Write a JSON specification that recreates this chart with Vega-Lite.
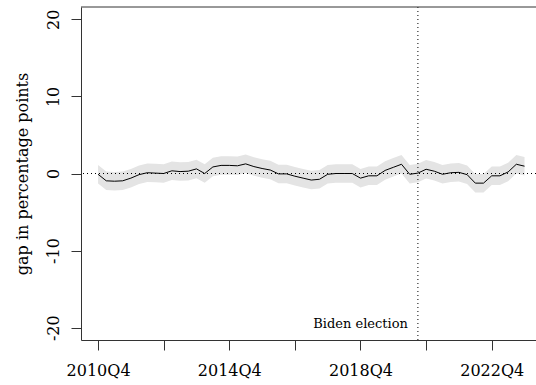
{
  "$schema": "https://vega.github.io/schema/vega-lite/v6.json",
  "autosize": "none",
  "width": 455,
  "height": 333,
  "padding": {"left": 81, "top": 7, "right": 0, "bottom": 45},
  "background": "white",
  "config": {
    "view": {"stroke": null},
    "font": "DejaVu Serif"
  },
  "datasets": {
    "gap": [
      {"t": 2010.75, "gap": -0.1, "lo": -1.3, "hi": 1.1},
      {"t": 2011.0, "gap": -0.95, "lo": -2.15, "hi": 0.25},
      {"t": 2011.25, "gap": -1.0, "lo": -2.2, "hi": 0.2},
      {"t": 2011.5, "gap": -0.95, "lo": -2.15, "hi": 0.25},
      {"t": 2011.75, "gap": -0.6, "lo": -1.8, "hi": 0.6},
      {"t": 2012.0, "gap": -0.15, "lo": -1.35, "hi": 1.05},
      {"t": 2012.25, "gap": 0.1, "lo": -1.1, "hi": 1.3},
      {"t": 2012.5, "gap": 0.05, "lo": -1.15, "hi": 1.25},
      {"t": 2012.75, "gap": 0.0, "lo": -1.2, "hi": 1.2},
      {"t": 2013.0, "gap": 0.35, "lo": -0.85, "hi": 1.55},
      {"t": 2013.25, "gap": 0.25, "lo": -0.95, "hi": 1.45},
      {"t": 2013.5, "gap": 0.3, "lo": -0.9, "hi": 1.5},
      {"t": 2013.75, "gap": 0.6, "lo": -0.6, "hi": 1.8},
      {"t": 2014.0, "gap": 0.0, "lo": -1.2, "hi": 1.2},
      {"t": 2014.25, "gap": 0.85, "lo": -0.35, "hi": 2.05},
      {"t": 2014.5, "gap": 1.05, "lo": -0.15, "hi": 2.25},
      {"t": 2014.75, "gap": 1.05, "lo": -0.15, "hi": 2.25},
      {"t": 2015.0, "gap": 1.0, "lo": -0.2, "hi": 2.2},
      {"t": 2015.25, "gap": 1.25, "lo": 0.05, "hi": 2.45},
      {"t": 2015.5, "gap": 0.9, "lo": -0.3, "hi": 2.1},
      {"t": 2015.75, "gap": 0.65, "lo": -0.55, "hi": 1.85},
      {"t": 2016.0, "gap": 0.45, "lo": -0.75, "hi": 1.65},
      {"t": 2016.25, "gap": -0.05, "lo": -1.25, "hi": 1.15},
      {"t": 2016.5, "gap": -0.05, "lo": -1.25, "hi": 1.15},
      {"t": 2016.75, "gap": -0.35, "lo": -1.55, "hi": 0.85},
      {"t": 2017.0, "gap": -0.6, "lo": -1.8, "hi": 0.6},
      {"t": 2017.25, "gap": -0.85, "lo": -2.05, "hi": 0.35},
      {"t": 2017.5, "gap": -0.75, "lo": -1.95, "hi": 0.45},
      {"t": 2017.75, "gap": -0.1, "lo": -1.3, "hi": 1.1},
      {"t": 2018.0, "gap": 0.0, "lo": -1.2, "hi": 1.2},
      {"t": 2018.25, "gap": 0.0, "lo": -1.2, "hi": 1.2},
      {"t": 2018.5, "gap": 0.0, "lo": -1.2, "hi": 1.2},
      {"t": 2018.75, "gap": -0.6, "lo": -1.8, "hi": 0.6},
      {"t": 2019.0, "gap": -0.3, "lo": -1.5, "hi": 0.9},
      {"t": 2019.25, "gap": -0.3, "lo": -1.5, "hi": 0.9},
      {"t": 2019.5, "gap": 0.4, "lo": -0.8, "hi": 1.6},
      {"t": 2019.75, "gap": 0.8, "lo": -0.4, "hi": 2.0},
      {"t": 2020.0, "gap": 1.2, "lo": 0.0, "hi": 2.4},
      {"t": 2020.25, "gap": -0.1, "lo": -1.3, "hi": 1.1},
      {"t": 2020.5, "gap": 0.05, "lo": -1.15, "hi": 1.25},
      {"t": 2020.75, "gap": 0.55, "lo": -0.65, "hi": 1.75},
      {"t": 2021.0, "gap": 0.3, "lo": -0.9, "hi": 1.5},
      {"t": 2021.25, "gap": -0.1, "lo": -1.3, "hi": 1.1},
      {"t": 2021.5, "gap": 0.1, "lo": -1.1, "hi": 1.3},
      {"t": 2021.75, "gap": 0.15, "lo": -1.05, "hi": 1.35},
      {"t": 2022.0, "gap": -0.15, "lo": -1.35, "hi": 1.05},
      {"t": 2022.25, "gap": -1.25, "lo": -2.45, "hi": -0.05},
      {"t": 2022.5, "gap": -1.25, "lo": -2.45, "hi": -0.05},
      {"t": 2022.75, "gap": -0.3, "lo": -1.5, "hi": 0.9},
      {"t": 2023.0, "gap": -0.3, "lo": -1.5, "hi": 0.9},
      {"t": 2023.25, "gap": 0.2, "lo": -1.0, "hi": 1.4},
      {"t": 2023.5, "gap": 1.2, "lo": 0.0, "hi": 2.4},
      {"t": 2023.75, "gap": 0.95, "lo": -0.25, "hi": 2.15}
    ],
    "event": [{"t": 2020.5, "y": -20, "label": "Biden election"}],
    "zero": [{"y": 0}],
    "frame": [{"y": 21.6}]
  },
  "layer": [
    {
      "data": {"name": "gap"},
      "mark": {"type": "area", "color": "#e4e4e4"},
      "encoding": {
        "x": {
          "field": "t",
          "type": "quantitative",
          "scale": {"domain": [2010.23, 2024.1], "nice": false, "zero": false},
          "axis": {
            "values": [2010.75, 2012.75, 2014.75, 2016.75, 2018.75, 2020.75, 2022.75],
            "labelExpr": "(datum.value - 2010.75) % 4 == 0 ? floor(datum.value) + 'Q4' : ''",
            "title": null,
            "grid": false,
            "tickSize": 10,
            "labelPadding": 12,
            "labelFont": "DejaVu Serif",
            "labelFontSize": 16,
            "labelColor": "black",
            "labelFlush": false,
            "labelOverlap": false,
            "domainColor": "#333",
            "tickColor": "#333"
          }
        },
        "y": {
          "field": "lo",
          "type": "quantitative",
          "scale": {"domain": [-21.6, 21.6], "nice": false, "zero": false},
          "axis": {
            "values": [-20, -10, 0, 10, 20],
            "labelExpr": "datum.value < 0 ? '-' + abs(datum.value) : '' + datum.value",
            "grid": false,
            "tickSize": 10,
            "labelAngle": 270,
            "labelAlign": "center",
            "labelBaseline": "alphabetic",
            "labelPadding": 13,
            "labelFont": "DejaVu Serif",
            "labelFontSize": 16,
            "labelColor": "black",
            "labelFlush": false,
            "domainColor": "#333",
            "tickColor": "#333",
            "title": "gap in percentage points",
            "titleFont": "DejaVu Serif",
            "titleFontSize": 16,
            "titleFontWeight": "normal",
            "titleColor": "black",
            "titleAngle": 270,
            "titleAlign": "center",
            "titleBaseline": "alphabetic",
            "titleX": -54,
            "titleY": 166.5
          }
        },
        "y2": {"field": "hi"}
      }
    },
    {
      "data": {"name": "zero"},
      "mark": {"type": "rule", "color": "black", "strokeDash": [1, 3], "strokeWidth": 1},
      "encoding": {"y": {"field": "y", "type": "quantitative"}}
    },
    {
      "data": {"name": "event"},
      "mark": {"type": "rule", "color": "black", "strokeDash": [1, 3], "strokeWidth": 1},
      "encoding": {"x": {"field": "t", "type": "quantitative"}}
    },
    {
      "data": {"name": "gap"},
      "mark": {"type": "line", "color": "black", "strokeWidth": 1},
      "encoding": {
        "x": {"field": "t", "type": "quantitative"},
        "y": {"field": "gap", "type": "quantitative"}
      }
    },
    {
      "data": {"name": "event"},
      "mark": {"type": "text", "align": "right", "baseline": "alphabetic", "dx": -10, "font": "DejaVu Serif", "fontSize": 13, "color": "black"},
      "encoding": {
        "x": {"field": "t", "type": "quantitative"},
        "y": {"field": "y", "type": "quantitative"},
        "text": {"field": "label"}
      }
    },
    {
      "data": {"name": "frame"},
      "mark": {"type": "rule", "color": "#333", "strokeWidth": 1},
      "encoding": {"y": {"field": "y", "type": "quantitative"}}
    }
  ]
}
